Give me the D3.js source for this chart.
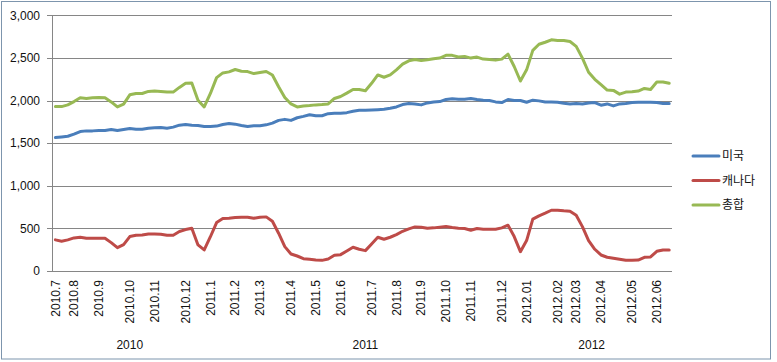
<!DOCTYPE html>
<html>
<head>
<meta charset="utf-8">
<script src="https://cdnjs.cloudflare.com/ajax/libs/d3/7.8.5/d3.min.js"></script>
<style>
  body { margin: 0; background: #fff; }
  #graphicContainer { width: 777px; height: 362px; }
  text { font-family: "Liberation Sans", Arial, sans-serif; fill: #111; }
  .legend text { font-family: "Noto Sans CJK KR", "Noto Sans", sans-serif; }
</style>
</head>
<body>
<div id="graphicContainer"></div>
<script>
// weekly values, July 2010 - June 2012
var seriesNames = ["미국", "캐나다", "총합"];

var us = [1565,1573,1581,1605,1636,1644,1644,1648,1648,1660,
	1648,1660,1672,1664,1664,1676,1680,1684,1676,1688,
	1711,1719,1711,1707,1696,1696,1700,1719,1731,1723,
	1707,1696,1704,1704,1715,1735,1767,1779,1767,1798,
	1814,1834,1822,1822,1846,1850,1850,1858,1874,1885,
	1885,1889,1893,1897,1909,1925,1953,1964,1960,1949,
	1972,1984,1988,2012,2020,2016,2016,2024,2012,2004,
	2000,1984,1976,2012,2000,2000,1980,2004,1996,1984,
	1984,1980,1968,1960,1964,1960,1972,1976,1945,1960,
	1937,1960,1964,1976,1980,1980,1980,1976,1964,1964];

var canada = [365,349,365,388,396,384,384,384,384,333,
	274,310,404,420,423,435,435,431,420,420,
	463,486,502,306,247,402,568,615,619,627,
	631,631,619,631,635,584,443,286,200,176,
	145,137,129,125,141,184,192,235,278,255,
	239,318,396,372,396,427,466,494,517,514,
	502,506,514,521,510,502,498,478,498,490,
	490,490,506,537,404,227,357,608,647,678,
	713,713,706,702,655,521,357,255,188,161,
	149,137,125,125,129,161,165,231,247,247];

var total = [1929,1929,1949,1988,2032,2024,2032,2036,2032,1984,
	1925,1957,2067,2083,2083,2107,2111,2107,2099,2099,
	2154,2202,2206,2004,1925,2083,2269,2324,2336,2364,
	2344,2340,2316,2328,2340,2300,2162,2036,1960,1925,
	1937,1941,1949,1953,1960,2024,2047,2087,2130,2130,
	2115,2202,2300,2273,2300,2360,2427,2466,2482,2470,
	2478,2490,2498,2530,2530,2510,2518,2498,2510,2486,
	2482,2474,2486,2545,2399,2229,2360,2589,2660,2684,
	2712,2704,2704,2692,2636,2498,2332,2249,2186,2123,
	2119,2075,2099,2103,2111,2142,2130,2217,2217,2202];

// which week carries a month label
var labelWeeks = [0,3,7,12,16,21,25,29,33,38,42,46,51,55,59,63,67,72,76,81,84,88,93,97];
var labelTexts = ["2010.7","2010.8","2010.9","2010.10","2010.11","2010.12",
	"2011.1","2011.2","2011.3","2011.4","2011.5","2011.6",
	"2011.7","2011.8","2011.9","2011.10","2011.11","2011.12",
	"2012.01","2012.02","2012.03","2012.04","2012.05","2012.06"];

var yearNames = ["2010", "2011", "2012"];
var yearStart = [0, 25, 76];
var yearEnd = [25, 76, 98];

var yTicks = [0, 500, 1000, 1500, 2000, 2500, 3000];

function makeChart() {

	var width = 777, height = 362;
	var plot = {left: 52.3, right: 672.3, top: 15.3, bottom: 271};

	var colors = d3.scaleOrdinal()
		.domain(seriesNames)
		.range(["#4a7ebb", "#be4b48", "#98b954"]);

	var x = d3.scaleBand()
		.domain(d3.range(us.length))
		.range([plot.left, plot.right]);

	var y = d3.scaleLinear()
		.domain([0, 3000])
		.range([plot.bottom, plot.top]);

	d3.select("#graphicContainer svg").remove();

	var svg = d3.select("#graphicContainer").append("svg")
		.attr("width", width)
		.attr("height", height);

	// chart area border
	svg.append("rect")
		.attr("x", 1.5).attr("y", 1.5)
		.attr("width", 769).attr("height", 357.5)
		.attr("fill", "#fff")
		.attr("stroke", "#7d95ad")
		.attr("stroke-width", 1);

	var yAxis = d3.axisLeft(y)
		.tickValues(yTicks)
		.tickFormat(d3.format(","))
		.tickSize(-(plot.right - plot.left + 5))
		.tickPadding(7.3);

	var gy = svg.append("g")
		.attr("transform", "translate(" + (plot.left - 5) + ",0)")
		.call(yAxis);
	gy.select(".domain").remove();
	gy.selectAll("line")
		.attr("stroke", "#868686")
		.attr("shape-rendering", "crispEdges");
	gy.selectAll("text")
		.style("font-size", "12px")
		.style("font-family", "'Liberation Sans', Arial, sans-serif")
		.attr("fill", "#111");

	svg.append("line")
		.attr("x1", plot.left).attr("x2", plot.left)
		.attr("y1", plot.top).attr("y2", plot.bottom)
		.attr("stroke", "#868686")
		.attr("shape-rendering", "crispEdges");

	// month labels, rotated
	svg.append("g")
		.selectAll("text")
		.data(labelWeeks)
		.enter()
		.append("text")
		.attr("transform", (d, i) => "translate(" + (x(d) + x.bandwidth() / 2) + ",280) rotate(-90)")
		.attr("text-anchor", "end")
		.attr("dy", "0.35em")
		.style("font-size", "12px")
		.text((d, i) => labelTexts[i]);

	// year labels
	svg.append("g")
		.selectAll("text")
		.data(yearNames)
		.enter()
		.append("text")
		.attr("x", (d, i) => (x(yearStart[i]) + x(yearEnd[i] - 1) + x.bandwidth()) / 2)
		.attr("y", 345)
		.attr("dy", "0.35em")
		.attr("text-anchor", "middle")
		.style("font-size", "12px")
		.text(d => d);

	var line = d3.line()
		.x((d, i) => x(i) + x.bandwidth() / 2)
		.y(d => y(d));

	var allSeries = [us, canada, total];

	svg.append("g")
		.selectAll("path")
		.data(allSeries)
		.enter()
		.append("path")
		.attr("d", d => line(d))
		.attr("fill", "none")
		.attr("stroke", (d, i) => colors(seriesNames[i]))
		.attr("stroke-width", 3)
		.attr("stroke-linejoin", "round")
		.attr("stroke-linecap", "round");

	var legend = svg.append("g")
		.attr("class", "legend")
		.selectAll("g")
		.data(seriesNames)
		.enter()
		.append("g")
		.attr("transform", (d, i) => "translate(693," + (156 + i * 24.5) + ")");

	legend.append("line")
		.attr("x1", 0).attr("x2", 26)
		.attr("stroke", d => colors(d))
		.attr("stroke-width", 3)
		.attr("stroke-linecap", "round");

	legend.append("text")
		.attr("x", 29)
		.attr("dy", "0.35em")
		.style("font-size", "12px")
		.text(d => d);
}

makeChart();
</script>
</body>
</html>
